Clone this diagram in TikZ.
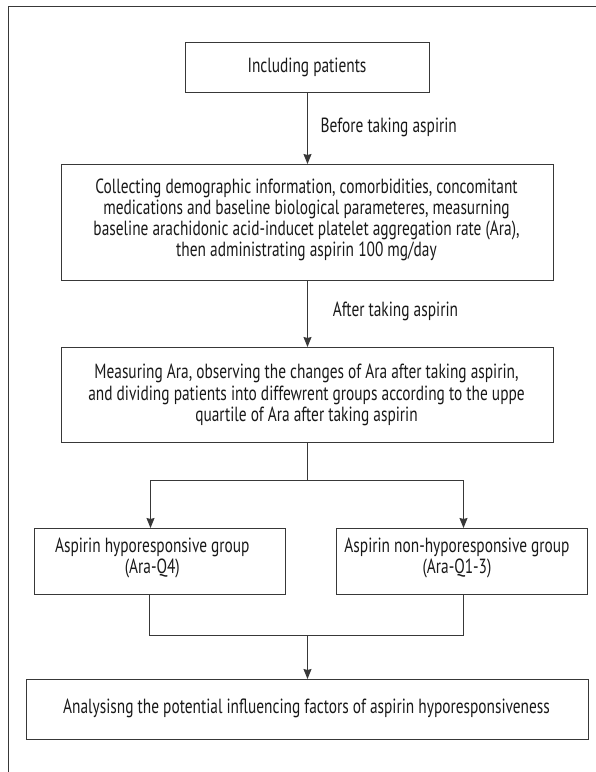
\documentclass[tikz,border=0pt]{standalone}
\usepackage{fontspec}
\setmainfont{PT Sans}[FakeStretch=0.75]
\usetikzlibrary{arrows.meta}
\begin{document}
\begin{tikzpicture}[x=1pt,y=-1pt,
  box/.style={draw=black!78,line width=1pt,rectangle,inner sep=0pt},
  txt/.style={align=center,inner sep=0pt,font=\fontsize{20.5}{21.2}\selectfont,text=black!90},
  conn/.style={draw=black!78,line width=1pt},
  arr/.style={conn,-{Stealth[length=10pt,width=8pt,inset=1pt]}}]
\useasboundingbox (0,0) rectangle (596,772);
\draw[conn] (8.5,772) -- (8.5,6.5) -- (600,6.5);
% boxes
\node[box,minimum width=244pt,minimum height=50pt] (b1) at (307.5,67.5) {};
\node[txt] (t1) at (307,67.5) {Including patients};
\node[box,minimum width=492pt,minimum height=116pt] (b2) at (307.5,222.5) {};
\node[txt] (t2) at (306.5,220) {Collecting demographic information, comorbidities, concomitant\\medications and baseline biological parameteres, measurning\\baseline arachidonic acid-inducet platelet aggregation rate (Ara),\\then administrating aspirin 100 mg/day};
\node[box,minimum width=492pt,minimum height=95pt] (b3) at (307.5,395) {};
\node[txt] (t3) at (306.5,395) {Measuring Ara, observing the changes of Ara after taking aspirin,\\and dividing patients into diffewrent groups according to the uppe\\quartile of Ara after taking aspirin};
\node[box,minimum width=251pt,minimum height=66pt] (b4) at (160,561.5) {};
\node[txt] (t4) at (152.3,558) {Aspirin hyporesponsive group\\(Ara-Q4)};
\node[box,minimum width=251pt,minimum height=66pt] (b5) at (462,561.5) {};
\node[txt] (t5) at (457,558) {Aspirin non-hyporesponsive group\\(Ara-Q1-3)};
\node[box,minimum width=562pt,minimum height=60pt] (b6) at (307.5,709.5) {};
\node[txt] (t6) at (306.5,708.3) {Analysisng the potential influencing factors of aspirin hyporesponsiveness};
% labels
\node[txt,anchor=west] (l1) at (320.4,127.7) {Before taking aspirin};
\node[txt,anchor=west] (l2) at (332.6,311.7) {After taking aspirin};
% connectors
\draw[arr] (b1.south) -- (b2.north);
\draw[arr] (b2.south) -- (b3.north);
\coordinate (s1) at (307.5,480.5);
\coordinate (s2) at (307.5,635.5);
\draw[conn] (b3.south) -- (s1);
\draw[arr] (s1) -| ([xshift=-9.5pt]b4.north);
\draw[arr] (s1) -| ([xshift=1.5pt]b5.north);
\draw[conn] ([xshift=-10.5pt]b4.south) |- (s2);
\draw[conn] ([xshift=1.5pt]b5.south) |- (s2);
\draw[arr] (s2) -- (b6.north);
\end{tikzpicture}
\end{document}
